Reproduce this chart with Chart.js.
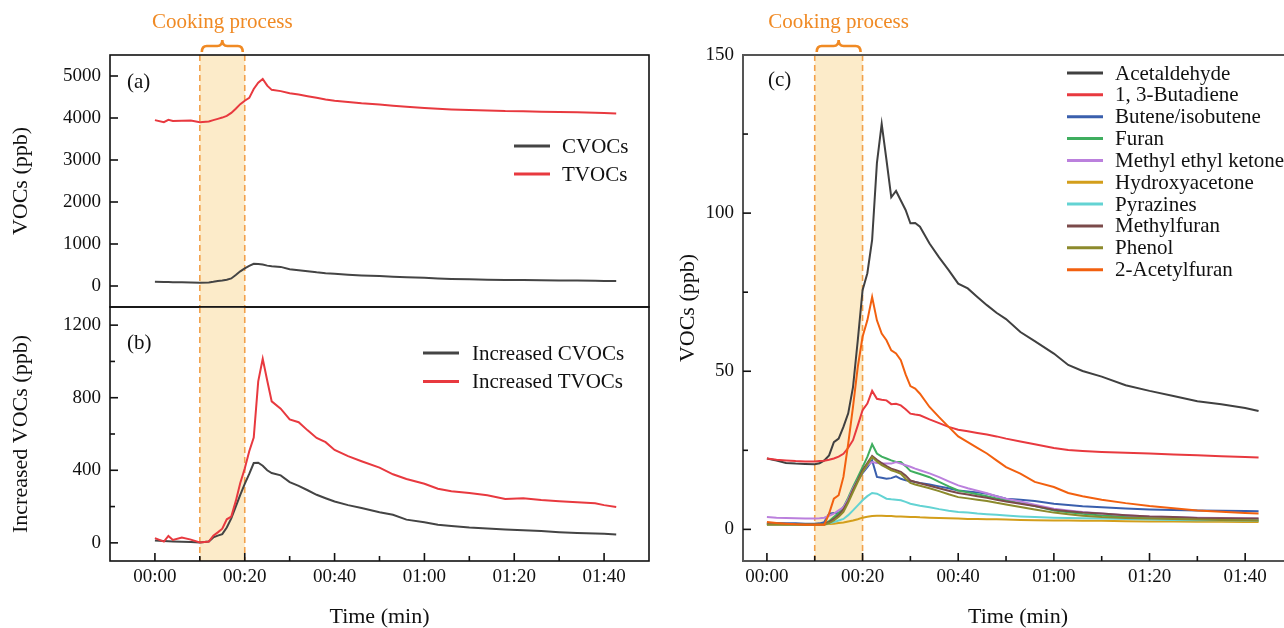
<!DOCTYPE html>
<html lang="en">
<head>
<meta charset="UTF-8">
<title>VOCs during cooking</title>
<script src="https://cdn.jsdelivr.net/npm/chart.js"></script>
<style>
  body { margin: 0; background: #fff; overflow: hidden; width: 1284px; height: 628px; position: relative; }
  canvas { position: absolute; }
  #chartA { left: 0; top: 0; }
  #chartB { left: 0; top: 300px; }
  #chartC { left: 676px; top: 0; }
</style>
</head>
<body>
<canvas id="chartA" width="660" height="309"></canvas>
<canvas id="chartB" width="660" height="328"></canvas>
<canvas id="chartC" width="620" height="628"></canvas>
<script>
// ---- data (minutes since start, ppb) ----
const cookingWindow = [10, 20];

const timeAB = [0,2,3,4,6,8,10, 12,13,14,15,16,17,18,19,20, 21,22,23,24,25,26, 28,30,32,34,36,38,40,
  43,46,50,53,56,60, 63,66,70,74,78,82,86,90, 94,98,100,102.7];
const cvocs = [100,98,95,92,88,84,80, 85,100,118,130,150,180,260,350,420, 480,530,525,510,485,470,
  455,400,375,350,325,305,290, 270,252,236,222,208,195, 180,168,158,150,144,140,136,132, 128,124,122,118];
const tvocs = [3950,3900,3955,3930,3935,3940,3900, 3915,3950,3980,4010,4050,4120,4220,4330,4410,
  4480,4690,4840,4930,4770,4670, 4640,4590,4560,4520,4480,4440,4410, 4380,4350,4320,4290,4265,4240,
  4220,4205,4190,4180,4165,4160,4150,4140, 4135,4125,4120,4110];
const incCvocs = [13,10,9,8,6,5,2, 7,30,40,48,85,135,200,265,325, 380,440,442,425,400,385,
  372,335,314,290,265,246,228, 208,192,169,155,128,114, 100,93,84,79,74,70,65,59, 55,52,50,46];
const incTvocs = [26,7,38,16,29,18,2, 7,40,58,78,130,145,230,330,410, 505,580,890,1015,895,780,
  740,680,665,620,578,555,512, 478,450,415,378,352,326, 298,285,275,262,242,246,236,230, 224,218,208,198];

const timeC = [0,2,4,6,8,10, 11,12,13,14,15,16,17,18,19,20, 21,22,23,24,25,26,27,28,29,30,31,32,
  34,36,38,40,42,44,46,48,50, 53,56,60,63,66,70, 75,80,85,90,95,100,102.8];
const acetaldehyde = [22.4,21.8,21,20.8,20.7,20.6, 20.9,21.8,23.4,27.6,28.7,32.4,36.7,45,59.8,75.6,
  81,91.5,115.8,128.2,116.8,105,107,104,101,96.8,96.9,95.7, 90.4,86,82,77.7,76.2,73.5,70.9,68.5,66.5,
  62.4,59.5,55.6,52,50.1,48.3, 45.6,43.8,42.2,40.5,39.6,38.4,37.4];
const butadiene = [22.4,22,21.8,21.6,21.5,21.5, 21.6,21.7,22,22.4,23,23.9,25.8,28.2,32.9,37.7,
  39.8,43.8,41.3,41,40.8,39.6,39.7,39.2,38,36.6,36.3,36.1, 34.8,33.6,32.4,31.5,31,30.5,30,29.4,28.7,
  27.8,26.9,25.7,25.1,24.8,24.5, 24.2,24,23.7,23.4,23.1,22.9,22.7];
const butene = [2,2,1.9,1.9,1.8,1.8, 1.9,2.3,5,5.2,5.2,7,9.2,12.5,15.5,17.8,
  19.7,21.8,16.6,16.3,16,16.2,16.8,16,15.5,15.3,15,14.7, 14.2,13.6,13,12.3,12,11.7,11.3,10.5,9.7,
  9.4,9,8.1,7.7,7.3,7, 6.6,6.3,6.1,6,5.9,5.8,5.7];
const furan = [1.8,1.7,1.6,1.6,1.5,1.5, 1.6,1.8,2.6,3.9,5.2,7,10,13.4,16.5,19.7,
  22.9,26.9,24,23,22.4,21.8,21.3,21.3,20,18.5,18,17.5, 16.5,15,13.6,12.3,11.7,11.1,10.5,9.8,9.2,
  8.3,7.4,6,5.4,4.9,4.4, 4,3.7,3.5,3.2,3,2.9,2.8];
const mek = [3.9,3.7,3.6,3.5,3.4,3.4, 3.5,3.7,4.3,5,6,7,9.5,12.9,15.5,18.1,
  20.3,21.3,21,20.8,20.8,20.8,21.3,20.8,20.3,19.8,19.2,18.7, 17.7,16.5,15.2,13.9,13,12.2,11.4,10.5,9.7,
  8.8,7.8,6.5,6,5.5,5, 4.5,4.1,3.9,3.7,3.6,3.5,3.4];
const hydroxyacetone = [1.8,1.8,1.7,1.7,1.6,1.6, 1.6,1.6,1.7,1.8,2,2.2,2.5,2.8,3.2,3.7,
  4,4.2,4.3,4.3,4.2,4.2,4.1,4.1,4,3.9,3.9,3.8, 3.7,3.6,3.5,3.4,3.3,3.3,3.2,3.2,3.1,
  3,2.9,2.8,2.8,2.7,2.7, 2.6,2.5,2.5,2.4,2.4,2.3,2.3];
const pyrazines = [1.6,1.6,1.6,1.6,1.6,1.6, 1.6,1.6,1.9,2.3,2.8,3.3,4.5,6,7.6,9.2,
  10.5,11.5,11.3,10.5,9.7,9.5,9.4,9.2,8.7,8.1,7.8,7.5, 7,6.4,5.9,5.5,5.3,5,4.8,4.6,4.4,
  4.1,3.9,3.7,3.6,3.5,3.4, 3.3,3.1,3,2.9,2.9,2.8,2.8];
const methylfuran = [1.6,1.6,1.6,1.6,1.6,1.6, 1.6,1.7,2.3,3.3,4.5,6.3,9,12.5,15.5,18.7,
  21,23.2,22,21,20,19.2,18.7,18.2,17,15.5,15,14.6, 13.8,13,12.2,11.5,11,10.5,10,9.4,8.8,
  8.1,7.4,6.2,5.7,5.3,5, 4.5,4.1,3.9,3.6,3.5,3.4,3.4];
const phenol = [1.5,1.5,1.5,1.5,1.5,1.5, 1.5,1.5,2,2.8,4,5.5,8.5,11.8,15,18.1,
  20.5,22.9,21.5,20.3,19.5,18.7,18.2,17.6,16,14.7,14.2,13.8, 13,12.1,11.1,10.2,9.8,9.4,9,8.4,7.9,
  7.1,6.3,5.3,4.8,4.3,3.9, 3.6,3.4,3.3,3.1,3,2.9,2.8];
const acetylfuran = [2.3,2,1.8,1.6,1.5,1.5, 1.5,1.5,5,9.7,10.8,16.6,27.1,38.7,51.4,60.9,
  66.1,73.5,66.1,61.9,59.8,56.6,55.6,53.5,49,45.3,44.5,42.9, 38.7,35.5,32.4,29.4,27.6,25.8,24,21.8,19.7,
  17.6,15,13.4,11.5,10.5,9.4, 8.3,7.4,6.7,6,5.6,5.2,5];

const speciesNames = ['Acetaldehyde', '1, 3-Butadiene', 'Butene/isobutene', 'Furan', 'Methyl ethyl ketone',
  'Hydroxyacetone', 'Pyrazines', 'Methylfuran', 'Phenol', '2-Acetylfuran'];
const speciesData = [acetaldehyde, butadiene, butene, furan, mek, hydroxyacetone, pyrazines, methylfuran, phenol, acetylfuran];
const speciesColors = ['#404040', '#e8393f', '#3a5fad', '#3fae5f', '#bb80dd', '#d39e1b', '#63d3d3', '#7b4a4a', '#8c8a2c', '#f2600f'];

// tick values
const timeTicks = [0, 10, 20, 30, 40, 50, 60, 70, 80, 90, 100];
const yTicksA = [0, 1000, 2000, 3000, 4000, 5000];
const yTicksB = [0, 200, 400, 600, 800, 1000, 1200];
const yTicksC = [0, 25, 50, 75, 100, 125, 150];

const SERIF = '"Liberation Serif", "Times New Roman", serif';
Chart.defaults.font.family = SERIF;
Chart.defaults.color = '#111';

function hhmm(v) {
  const h = Math.floor(v / 60), m = v % 60;
  return String(h).padStart(2, '0') + ':' + String(m).padStart(2, '0');
}

function pts(times, vals) {
  return times.map((t, i) => ({ x: t, y: vals[i] }));
}

// shaded cooking window, frame, inward ticks, labels, legend
const decoPlugin = {
  id: 'deco',
  beforeDatasetsDraw(chart) {
    const { ctx, chartArea: a, scales: { x } } = chart;
    const x0 = x.getPixelForValue(cookingWindow[0]);
    const x1 = x.getPixelForValue(cookingWindow[1]);
    ctx.save();
    ctx.fillStyle = '#fcebc9';
    ctx.fillRect(x0, a.top, x1 - x0, a.bottom - a.top);
    ctx.strokeStyle = '#f2a14b';
    ctx.lineWidth = 1.6;
    ctx.setLineDash([6, 4]);
    [x0, x1].forEach(px => {
      ctx.beginPath();
      ctx.moveTo(px, a.top);
      ctx.lineTo(px, a.bottom);
      ctx.stroke();
    });
    ctx.restore();
  },
  afterDraw(chart, args, o) {
    const { ctx, chartArea: a, scales: { x, y } } = chart;
    ctx.save();
    // frame
    ctx.strokeStyle = o.frameColor;
    ctx.lineWidth = o.frameWidth;
    ctx.strokeRect(a.left, a.top, a.right - a.left, a.bottom - a.top);

    // inward ticks
    ctx.lineWidth = 1.6;
    ctx.strokeStyle = '#111';
    if (o.xTicks) {
      x.ticks.forEach(t => {
        if (t.value <= x.min || t.value >= x.max) return;
        const px = x.getPixelForValue(t.value);
        const len = t.value % o.xMajor === 0 ? 8 : 5;
        ctx.beginPath(); ctx.moveTo(px, a.bottom); ctx.lineTo(px, a.bottom - len); ctx.stroke();
      });
    }
    y.ticks.forEach(t => {
      if (t.value <= y.min || t.value >= y.max) return;
      const py = y.getPixelForValue(t.value);
      const len = t.value % o.yMajor === 0 ? 8 : 5;
      ctx.beginPath(); ctx.moveTo(a.left, py); ctx.lineTo(a.left + len, py); ctx.stroke();
    });

    // panel label
    ctx.fillStyle = '#111';
    ctx.font = '21px ' + SERIF;
    ctx.textBaseline = 'middle';
    ctx.textAlign = 'left';
    ctx.fillText(o.label, o.labelPos[0], o.labelPos[1]);

    // legend
    const lg = o.legend;
    chart.data.datasets.forEach((ds, i) => {
      const ly = lg.y + i * lg.step;
      ctx.strokeStyle = ds.borderColor;
      ctx.lineWidth = 3;
      ctx.beginPath(); ctx.moveTo(lg.x, ly); ctx.lineTo(lg.x + 36, ly); ctx.stroke();
      ctx.fillStyle = '#111';
      ctx.font = lg.size + 'px ' + SERIF;
      ctx.fillText(ds.label, lg.x + lg.gap, ly + 1);
    });

    // cooking caption + brace
    if (o.caption) {
      const x0 = x.getPixelForValue(cookingWindow[0]) + 2;
      const x1 = x.getPixelForValue(cookingWindow[1]) - 2;
      const m = (x0 + x1) / 2;
      ctx.fillStyle = '#f08a24';
      ctx.font = '21px ' + SERIF;
      ctx.textAlign = 'center';
      ctx.fillText('Cooking process', m, 22);
      ctx.strokeStyle = '#f08a24';
      ctx.lineWidth = 2.6;
      ctx.beginPath();
      ctx.moveTo(x0, 52);
      ctx.quadraticCurveTo(x0, 46, x0 + 5, 46);
      ctx.lineTo(m - 5, 46);
      ctx.quadraticCurveTo(m, 46, m, 40);
      ctx.quadraticCurveTo(m, 46, m + 5, 46);
      ctx.lineTo(x1 - 5, 46);
      ctx.quadraticCurveTo(x1, 46, x1, 52);
      ctx.stroke();
    }
    ctx.restore();
  }
};

function timeAxis(min, show) {
  return {
    type: 'linear', min: min, max: 110, display: show,
    afterBuildTicks: s => { s.ticks = timeTicks.map(v => ({ value: v })); },
    afterFit: s => {
      s.height = show ? 67 : 0;
      s.paddingLeft = 0; s.paddingRight = 0;
    },
    grid: { display: false, drawTicks: false },
    border: { display: false },
    ticks: {
      autoSkip: false, maxRotation: 0, padding: 5,
      font: { size: 19 },
      callback: v => (v % 20 === 0 ? hhmm(v) : '')
    },
    title: { display: true, text: 'Time (min)', font: { size: 22, lineHeight: 1 }, padding: 0 }
  };
}

function valueAxis(min, max, ticks, labelStep, title, width, titlePad) {
  return {
    type: 'linear', min: min, max: max,
    afterBuildTicks: s => { s.ticks = ticks.map(v => ({ value: v })); },
    afterFit: s => {
      s.width = width;
      s.paddingTop = 0; s.paddingBottom = 0;
    },
    grid: { display: false, drawTicks: false },
    border: { display: false },
    ticks: {
      autoSkip: false, padding: 9,
      font: { size: 19 },
      callback: v => (v % labelStep === 0 ? String(v) : '')
    },
    title: { display: true, text: title, font: { size: 22, lineHeight: 1 }, padding: { top: titlePad, bottom: 0 } }
  };
}

function lineSet(label, times, vals, color, order) {
  return {
    label: label, data: pts(times, vals), borderColor: color, backgroundColor: color,
    borderWidth: 2, pointRadius: 0, tension: 0, order: order
  };
}

const common = {
  responsive: false, animation: false,
  plugins: { legend: { display: false }, tooltip: { enabled: false } }
};

new Chart(document.getElementById('chartA'), {
  type: 'line',
  data: {
    datasets: [
      lineSet('CVOCs', timeAB, cvocs, '#444444', 0),
      lineSet('TVOCs', timeAB, tvocs, '#e8393f', -1)
    ]
  },
  options: {
    ...common,
    layout: { padding: { top: 55, right: 11, bottom: 2, left: 0 } },
    scales: {
      x: timeAxis(-10, false),
      y: valueAxis(-500, 5500, yTicksA, 1000, 'VOCs (ppb)', 110, 10)
    },
    plugins: {
      ...common.plugins,
      deco: {
        frameColor: '#111', frameWidth: 1.6, xTicks: false, xMajor: 20, yMajor: 1000,
        label: '(a)', labelPos: [127, 82], caption: true,
        legend: { x: 514, y: 146, step: 28, gap: 48, size: 21 }
      }
    }
  },
  plugins: [decoPlugin]
});

new Chart(document.getElementById('chartB'), {
  type: 'line',
  data: {
    datasets: [
      lineSet('Increased CVOCs', timeAB, incCvocs, '#444444', 0),
      lineSet('Increased TVOCs', timeAB, incTvocs, '#e8393f', -1)
    ]
  },
  options: {
    ...common,
    layout: { padding: { top: 7, right: 11, bottom: 0, left: 0 } },
    scales: {
      x: timeAxis(-10, true),
      y: valueAxis(-100, 1300, yTicksB, 400, 'Increased VOCs (ppb)', 110, 10)
    },
    plugins: {
      ...common.plugins,
      deco: {
        frameColor: '#111', frameWidth: 1.6, xTicks: true, xMajor: 20, yMajor: 400,
        label: '(b)', labelPos: [127, 43], caption: false,
        legend: { x: 423, y: 53, step: 28.5, gap: 49, size: 21 }
      }
    }
  },
  plugins: [decoPlugin]
});

new Chart(document.getElementById('chartC'), {
  type: 'line',
  data: {
    datasets: speciesNames.map((name, i) => lineSet(name, timeC, speciesData[i], speciesColors[i], -i))
  },
  options: {
    ...common,
    layout: { padding: { top: 55, right: 3, bottom: 0, left: 0 } },
    scales: {
      x: timeAxis(-5, true),
      y: valueAxis(-10, 150, yTicksC, 50, 'VOCs (ppb)', 67, 1)
    },
    plugins: {
      ...common.plugins,
      deco: {
        frameColor: '#555', frameWidth: 2, xTicks: true, xMajor: 20, yMajor: 50,
        label: '(c)', labelPos: [92, 80], caption: true,
        legend: { x: 391, y: 73, step: 21.85, gap: 48, size: 21 }
      }
    }
  },
  plugins: [decoPlugin]
});
</script>
</body>
</html>
